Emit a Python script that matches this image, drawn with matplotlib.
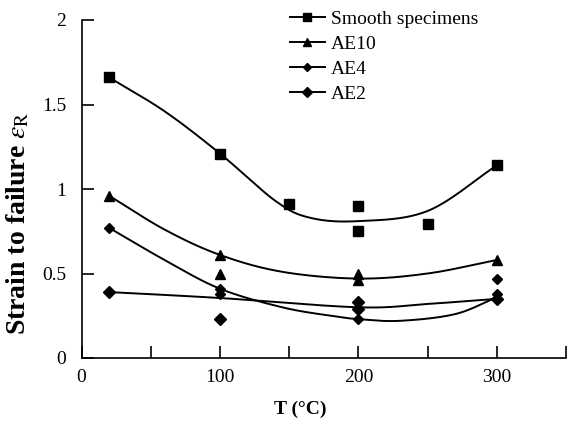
import numpy as np
import matplotlib
matplotlib.use('Agg')
import matplotlib.pyplot as plt

plt.rcParams['font.family'] = ['Liberation Serif', 'DejaVu Serif']
plt.rcParams['mathtext.fontset'] = 'stix'

# measured points (T in °C, strain to failure)
smooth_T = [20, 100, 150, 200, 200, 250, 300]
smooth_e = [1.66, 1.21, 0.91, 0.90, 0.75, 0.79, 1.14]
ae10_T = [20, 100, 100, 200, 200, 300]
ae10_e = [0.96, 0.61, 0.50, 0.50, 0.46, 0.58]
ae4_T = [20, 100, 100, 200, 300, 300]
ae4_e = [0.77, 0.41, 0.38, 0.23, 0.47, 0.38]
ae2_T = [20, 100, 200, 200, 300]
ae2_e = [0.39, 0.23, 0.33, 0.29, 0.35]

# trend curves, nodes
smooth_fit_T = [20, 60, 100, 140, 165, 200, 250, 300]
smooth_fit_e = [1.66, 1.46, 1.21, 0.93, 0.83, 0.81, 0.87, 1.14]
ae10_fit_T = [20, 60, 100, 145, 200, 250, 300]
ae10_fit_e = [0.96, 0.76, 0.61, 0.51, 0.47, 0.50, 0.58]
ae4_fit_T = [20, 60, 100, 145, 180, 200, 230, 270, 300]
ae4_fit_e = [0.77, 0.58, 0.41, 0.30, 0.25, 0.23, 0.22, 0.26, 0.36]
ae2_fit_T = [20, 100, 200, 250, 300]
ae2_fit_e = [0.39, 0.355, 0.30, 0.32, 0.35]


def catmull(xs, ys, n=40):
    # smoothed line through the nodes, like a spreadsheet "smoothed line"
    p = np.column_stack([xs, ys]).astype(float)
    p = np.vstack([2 * p[0] - p[1], p, 2 * p[-1] - p[-2]])
    out = []
    t = np.linspace(0, 1, n)[:, None]
    for i in range(1, len(p) - 2):
        p0, p1, p2, p3 = p[i - 1], p[i], p[i + 1], p[i + 2]
        seg = 0.5 * ((2 * p1) + (-p0 + p2) * t + (2 * p0 - 5 * p1 + 4 * p2 - p3) * t ** 2
                     + (-p0 + 3 * p1 - 3 * p2 + p3) * t ** 3)
        out.append(seg)
    out = np.vstack(out)
    return out[:, 0], out[:, 1]


fig = plt.figure(figsize=(5.68, 4.25), dpi=100)
ax = fig.add_axes([81.5 / 568, 1 - 358 / 425, (566 - 81.5) / 568, 338 / 425])

series = [
    ('Smooth specimens', smooth_T, smooth_e, smooth_fit_T, smooth_fit_e, 's', 6.5),
    ('AE10', ae10_T, ae10_e, ae10_fit_T, ae10_fit_e, '^', 7),
    ('AE4', ae4_T, ae4_e, ae4_fit_T, ae4_fit_e, 'D', 4.8),
    ('AE2', ae2_T, ae2_e, ae2_fit_T, ae2_fit_e, 'D', 6.2),
]
handles = []
for name, T, e, fT, fe, m, ms in series:
    cx, cy = catmull(fT, fe)
    ax.plot(cx, cy, color='black', lw=1.4)
    ax.plot(T, e, linestyle='none', marker=m, ms=ms, color='black')
    h, = ax.plot([], [], color='black', lw=1.4, marker=m, ms=ms * 0.85, label=name)
    handles.append(h)

ax.set_xlim(0, 350)
ax.set_ylim(0, 2)
ax.spines['top'].set_visible(False)
ax.spines['right'].set_visible(False)
ax.spines['left'].set_linewidth(1.2)
ax.spines['bottom'].set_linewidth(1.2)

ax.set_xticks([0, 100, 200, 300])
ax.set_xticks([50, 150, 250, 350], minor=True)
ax.set_yticks([0, 0.5, 1, 1.5, 2])
ax.set_yticklabels(['0', '0.5', '1', '1.5', '2'])
ax.tick_params(axis='both', which='both', direction='in', length=8.5, width=1.2,
               labelsize=14)
ax.tick_params(axis='x', which='major', pad=8)
ax.tick_params(axis='y', which='major', pad=11)

ax.set_xlabel('T (°C)', fontsize=14, fontweight='bold')
ax.xaxis.set_label_coords(0.451, -0.125)
ax.set_ylabel(r'Strain to failure $\varepsilon_{\mathrm{R}}$', fontsize=20,
              fontweight='bold')
ax.yaxis.set_label_coords(-0.104, 0.40)

ax.legend(handles=handles, loc='upper left', bbox_to_anchor=(0.43, 1.028),
          frameon=False, fontsize=14, handlelength=1.8, handletextpad=0.3,
          labelspacing=0.38, borderpad=0, borderaxespad=0)

fig.savefig('out.png', dpi=100)
